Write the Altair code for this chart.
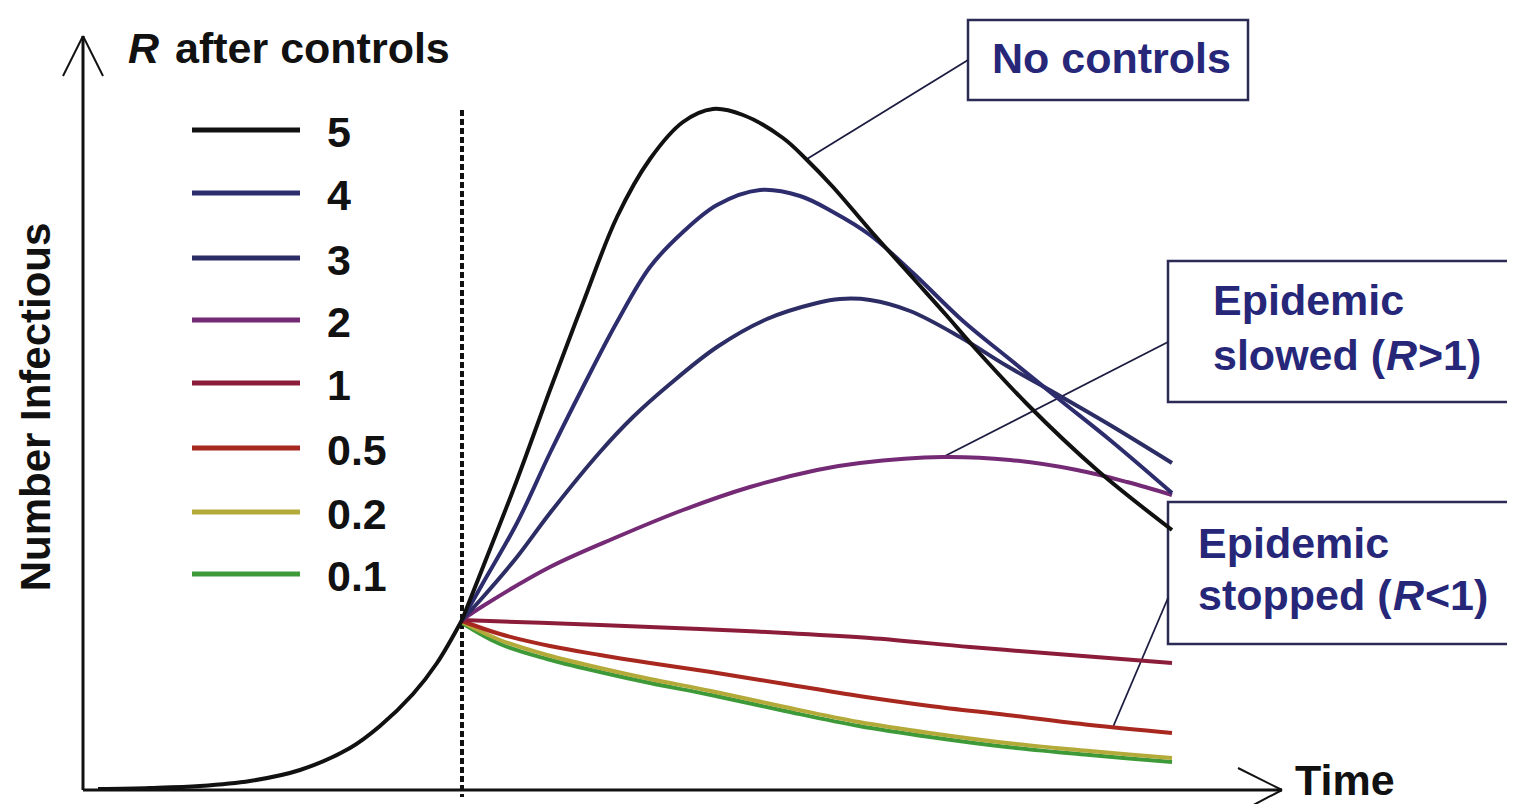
import altair as alt
import pandas as pd

# ---------------- values ----------------
# time axis (t) starts at the y axis, number infectious (n) starts at the x axis
control_t = 379                      # moment controls are introduced (dotted line)

pre_t = [15, 67, 117, 167, 217, 267, 297, 330, 354, 379]
pre_n = [1, 2, 4, 9, 20, 42, 64, 96, 127, 170]

r5_t = [379, 400, 434, 467, 500, 534, 567, 600, 630, 660, 700, 724, 750, 787, 830, 864, 890, 944, 1014, 1089]
r5_n = [170, 223, 310, 400, 487, 573, 631, 668, 681, 675, 652, 630, 603, 560, 512, 474, 444, 386, 320, 260]

r4_t = [379, 400, 434, 467, 500, 534, 567, 600, 634, 677, 717, 750, 787, 830, 880, 924, 977, 1027, 1089]
r4_n = [170, 207, 267, 337, 403, 468, 523, 558, 585, 600, 594, 578, 555, 517, 469, 433, 390, 350, 297]

r3_t = [379, 400, 434, 467, 517, 550, 587, 634, 684, 734, 757, 787, 827, 877, 924, 977, 1027, 1089]
r3_n = [170, 193, 233, 277, 338, 373, 406, 443, 471, 487, 491, 490, 479, 453, 424, 394, 365, 327]

r2_t = [379, 400, 467, 534, 600, 667, 734, 777, 860, 927, 994, 1044, 1089]
r2_n = [170, 184, 223, 253, 280, 303, 320, 327, 333, 330, 320, 308, 295]

r1_t = [379, 517, 617, 702, 787, 887, 987, 1089]
r1_n = [170, 165, 161, 157, 152, 143, 135, 127]

r05_t = [379, 417, 467, 517, 567, 628, 702, 776, 847, 924, 1007, 1089]
r05_n = [169, 156, 144, 135, 127, 118, 106, 94, 84, 75, 65, 57]

r02_t = [379, 417, 464, 517, 567, 628, 702, 776, 847, 924, 1007, 1089]
r02_n = [168, 150, 135, 122, 111, 99, 83, 68, 57, 47, 39, 32]

r01_t = [379, 417, 464, 517, 567, 628, 702, 776, 847, 924, 1007, 1089]
r01_n = [167, 146, 131, 118, 107, 95, 79, 64, 53, 43, 35, 28]

series = ["5", "4", "3", "2", "1", "0.5", "0.2", "0.1"]
series_t = [r5_t, r4_t, r3_t, r2_t, r1_t, r05_t, r02_t, r01_t]
series_n = [r5_n, r4_n, r3_n, r2_n, r1_n, r05_n, r02_n, r01_n]

# ---------------- styles / layout ----------------
colors = ["#111111", "#2d2d6e", "#2d2d66", "#742a74", "#8c1d3a", "#a8281f", "#b3aa3a", "#3e9a38"]
legend_n = [660, 597, 532, 470, 407, 342, 278, 216]
FONT = "Liberation Sans"
NAVY = "#27277a"
BOXC = "#2b2b55"

X_DOM = [-75, 1424]
Y_DOM = [-14, 782]
xs = alt.Scale(domain=X_DOM, nice=False, zero=False)
ys = alt.Scale(domain=Y_DOM, nice=False, zero=False)


def X(f="t"):
    return alt.X(f"{f}:Q", scale=xs, axis=None)


def Y(f="n"):
    return alt.Y(f"{f}:Q", scale=ys, axis=None)


def segments(rows, **mk):
    df = pd.DataFrame(rows, columns=["t", "n", "t2", "n2"])
    return alt.Chart(df).mark_rule(**mk).encode(x=X(), y=Y(), x2="t2", y2="n2")


def text(rows, **mk):
    df = pd.DataFrame(rows, columns=["t", "n", "label"])
    base = dict(font=FONT, fontSize=43, fontWeight="bold", align="left",
                baseline="alphabetic", color="#111111")
    base.update(mk)
    return alt.Chart(df).mark_text(**base).encode(x=X(), y=Y(), text="label:N")


layers = []

# annotation boxes
boxes = pd.DataFrame({
    "t": [885, 1085, 1085], "t2": [1165, 1447, 1447],
    "n": [770, 529, 288], "n2": [690, 388, 146],
})
layers.append(alt.Chart(boxes).mark_rect(fill="white", stroke=BOXC, strokeWidth=2.5, clip=True)
              .encode(x=X(), x2="t2", y=Y(), y2="n2"))

# leader lines
layers.append(segments([
    [885, 730, 724, 631],
    [1085, 448, 862, 334],
    [1085, 192, 1030, 63],
], color="#1c1c40", strokeWidth=1.8))

# axes with open arrow heads
layers.append(segments([
    [0, 0, 0, 754],
    [0, 0, 1199, 0],
], color="#111111", strokeWidth=3))
layers.append(segments([
    [0, 754, -20, 714], [0, 754, 20, 714],
    [1199, 0, 1155, 22], [1199, 0, 1157, -22],
], color="#111111", strokeWidth=2))

# dotted line at the start of controls
layers.append(segments([[control_t, 680, control_t, -7]],
                       color="#111111", strokeWidth=4, strokeDash=[6, 3]))

# curves after controls (lowest drawn first)
for name, ts, ns, col in reversed(list(zip(series, series_t, series_n, colors))):
    df = pd.DataFrame({"t": ts, "n": ns})
    layers.append(alt.Chart(df).mark_line(color=col, strokeWidth=4, interpolate="catmull-rom")
                  .encode(x=X(), y=Y()))

# curve before controls
layers.append(alt.Chart(pd.DataFrame({"t": pre_t, "n": pre_n}))
              .mark_line(color="#111111", strokeWidth=4, interpolate="catmull-rom")
              .encode(x=X(), y=Y()))

# legend lines and labels
leg = pd.DataFrame({"t": [109] * 8, "t2": [217] * 8, "n": legend_n, "series": series})
layers.append(alt.Chart(leg).mark_rule(strokeWidth=5).encode(
    x=X(), x2="t2", y=Y(),
    color=alt.Color("series:N", scale=alt.Scale(domain=series, range=colors), legend=None)))
layers.append(text([[244, v - 17, s] for v, s in zip(legend_n, series)]))

# legend title
layers.append(text([[45, 727, "R"]], fontStyle="italic"))
layers.append(text([[92, 727, "after controls"]]))

# axis titles
layers.append(text([[1212, -5, "Time"]]))
layers.append(text([[-33, 383, "Number Infectious"]], angle=270, align="center", fontSize=42))

# annotation texts
layers.append(text([
    [909, 717, "No controls"],
    [1130, 475, "Epidemic"],
    [1130, 420, "slowed ("],
    [1335, 420, ">1)"],
    [1115, 232, "Epidemic"],
    [1115, 180, "stopped ("],
    [1342, 180, "<1)"],
], color=NAVY))
layers.append(text([
    [1303, 420, "R"],
    [1310, 180, "R"],
], color=NAVY, fontStyle="italic"))

chart = alt.layer(*layers).properties(
    width=1499, height=796,
    autosize=alt.AutoSizeParams(type="none"),
    padding=0,
    background="white",
).configure_view(stroke=None)

chart.save("out.html", embed_options={"renderer": "svg", "actions": False})
